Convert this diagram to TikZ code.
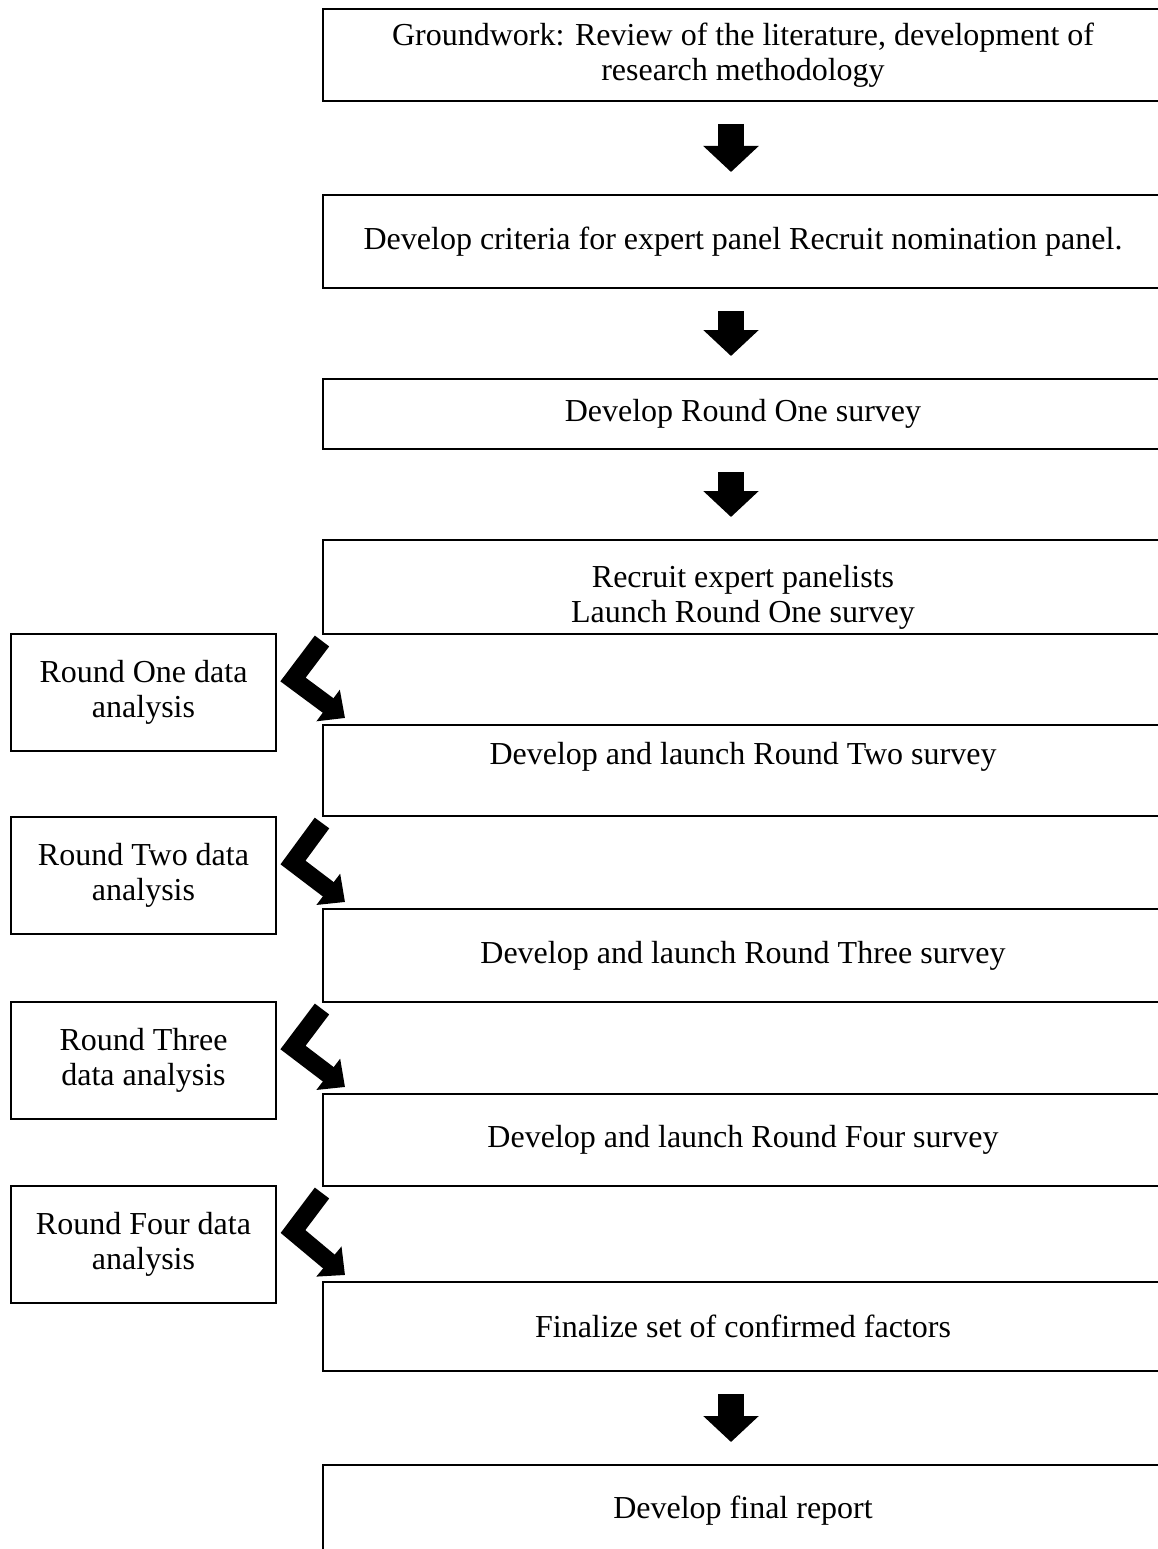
\documentclass[tikz,border=0pt]{standalone}
\usepackage{fontspec}
\setmainfont{Liberation Serif}
\usetikzlibrary{arrows.meta,calc}

\begin{document}
\begin{tikzpicture}[x=1pt,y=-1pt,
	stepbox/.style={draw=black,line width=2pt,anchor=north west,inner sep=0pt,
		minimum width=840pt,align=center,font=\fontsize{32}{35.5}\selectfont},
	sidebox/.style={draw=black,line width=2pt,anchor=north west,inner sep=0pt,
		minimum width=265pt,minimum height=117pt,align=center,font=\fontsize{32}{35.5}\selectfont},
	downarrow/.style={line width=26pt,-{Triangle[width=54pt,length=26pt]},
		shorten <=22pt,shorten >=22pt},
	bentarrow/.style={line width=18pt,-{Triangle[width=38pt,length=21pt]}}]

			\useasboundingbox (0,0) rectangle (1158,1549);
			\clip (0,0) rectangle (1158,1549);

			% main column
			\node[stepbox,minimum height=92pt] (ground) at (322,8) {Groundwork: Review of the literature, development of\\research methodology};
			\node[stepbox,minimum height=93pt] (crit) at (322,194) {Develop criteria for expert panel Recruit nomination panel.};
			\node[stepbox,minimum height=70pt] (rone) at (322,378) {Develop Round One survey};
			\node[stepbox,minimum height=94pt,text height=78pt] (launch) at (322,539) {Recruit expert panelists\\Launch Round One survey};
			\node[stepbox,minimum height=91pt,text depth=34pt] (rtwo) at (322,724) {Develop and launch Round Two survey};
			\node[stepbox,minimum height=93pt] (rthree) at (322,908) {Develop and launch Round Three survey};
			\node[stepbox,minimum height=92pt] (rfour) at (322,1093) {Develop and launch Round Four survey};
			\node[stepbox,minimum height=89pt] (final) at (322,1281) {Finalize set of confirmed factors};
			\node[stepbox,minimum height=92pt] (report) at (322,1464) {Develop final report};

			% analysis boxes on the left
			\node[sidebox] (ana1) at (10,633) {Round One data\\analysis};
			\node[sidebox] (ana2) at (10,816) {Round Two data\\analysis};
			\node[sidebox] (ana3) at (10,1001) {Round Three\\data analysis};
			\node[sidebox] (ana4) at (10,1185) {Round Four data\\analysis};

			\coordinate (ax) at (731,0);
			\draw[downarrow] (ground.south -| ax) -- (crit.north -| ax);
			\draw[downarrow] (crit.south -| ax) -- (rone.north -| ax);
			\draw[downarrow] (rone.south -| ax) -- (launch.north -| ax);
			\draw[downarrow] (final.south -| ax) -- (report.north -| ax);

			% bent arrows past the analysis boxes
			\draw[bentarrow] ($(launch.south west)+(0,6)$) -- ($(ana1.east)+(16,-13)$) -- ($(rtwo.north west)+(23,-6)$);
			\draw[bentarrow] ($(rtwo.south west)+(0,6)$) -- ($(ana2.east)+(16,-13)$) -- ($(rthree.north west)+(23,-6)$);
			\draw[bentarrow] ($(rthree.south west)+(0,6)$) -- ($(ana3.east)+(16,-13)$) -- ($(rfour.north west)+(23,-6)$);
			\draw[bentarrow] ($(rfour.south west)+(0,6)$) -- ($(ana4.east)+(16,-13)$) -- ($(final.north west)+(23,-6)$);

\end{tikzpicture}
\end{document}
